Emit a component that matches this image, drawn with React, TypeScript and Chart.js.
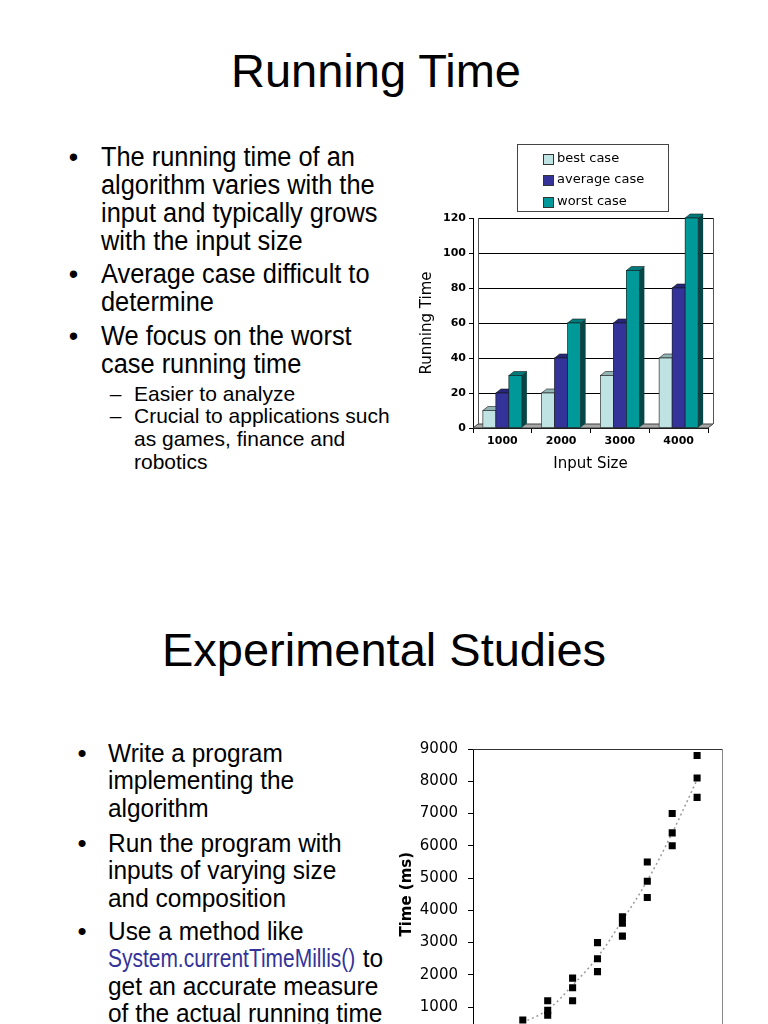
import React, { useEffect, useRef } from "react";
import { Chart, registerables } from "chart.js";

Chart.register(...registerables);
Chart.defaults.font.family = "'DejaVu Sans', Verdana, sans-serif";
Chart.defaults.color = "#000";

// ---------- Data: bar chart (Running Time) ----------
const barCategories = ["1000", "2000", "3000", "4000"];
const barSeriesNames = ["best case", "average case", "worst case"];
const bestCase = [10, 20, 30, 40];
const averageCase = [20, 40, 60, 80];
const worstCase = [30, 60, 90, 120];
const barYMax = 120;
const barYStep = 20;

// ---------- Data: scatter chart (Experimental Studies) ----------
const scatterX = [20, 20, 20, 30, 30, 30, 40, 40, 40, 50, 50, 50, 60, 60, 60, 70, 70, 70, 80, 80, 80, 90, 90, 90];
const scatterY = [600, 350, 200, 1200, 900, 750, 1900, 1600, 1200, 3000, 2500, 2100, 3800, 3600, 3200, 5500, 4900, 4400, 7000, 6400, 6000, 8800, 8100, 7500];
const trendX = [20, 30, 40, 50, 60, 70, 80, 90];
const trendY = [520, 920, 1680, 2550, 3690, 4920, 6400, 8050];
const scatterYMax = 9000;
const scatterYStep = 1000;
const scatterXMax = 100;

// ---------- Slide text ----------
const topBullets = [
  ["The running time of an", "algorithm varies with the", "input and typically grows", "with the input size"],
  ["Average case difficult to", "determine"],
  ["We focus on the worst", "case running time"],
];
const topSubBullets = [["Easier to analyze"], ["Crucial to applications such", "as games, finance and", "robotics"]];
const bottomBullets = [
  ["Write a program", "implementing the", "algorithm"],
  ["Run the program with", "inputs of varying size", "and composition"],
  ["Use a method like", "@@System.currentTimeMillis()@@ to", "get an accurate measure", "of the actual running time"],
];

// styling
const barFront = ["#bfe3e3", "#333399", "#009999"];
const barTop = ["#93b4b4", "#26267a", "#007a7a"];
const barSide = ["#6f8c8c", "#17174d", "#064646"];

const SANS = "'Liberation Sans', Arial, Helvetica, sans-serif";

function BarChart() {
  const ref = useRef<HTMLCanvasElement>(null);
  useEffect(() => {
    const dx = 5;
    const dy = 4;
    const plugin = {
      id: "bar3d",
      beforeDatasetsDraw(chart: any) {
        const { ctx, chartArea: a, scales } = chart;
        const y = scales.y;
        ctx.save();
        ctx.beginPath();
        ctx.moveTo(a.left, a.bottom);
        ctx.lineTo(a.right, a.bottom);
        ctx.lineTo(a.right + dx, a.bottom - dy);
        ctx.lineTo(a.left + dx, a.bottom - dy);
        ctx.closePath();
        ctx.fillStyle = "#a8a8a8";
        ctx.fill();
        ctx.strokeStyle = "#404040";
        ctx.lineWidth = 1;
        ctx.stroke();
        ctx.strokeStyle = "#000";
        ctx.lineWidth = 1;
        y.ticks.forEach((t: any) => {
          if (t.value === 0) return;
          const py = Math.round(y.getPixelForValue(t.value)) + 0.5;
          ctx.beginPath();
          ctx.moveTo(a.left + dx, py);
          ctx.lineTo(a.right + dx, py);
          ctx.stroke();
        });
        ctx.beginPath();
        ctx.moveTo(Math.round(a.left + dx) + 0.5, a.top);
        ctx.lineTo(Math.round(a.left + dx) + 0.5, a.bottom - dy);
        ctx.moveTo(Math.round(a.right + dx) + 0.5, a.top);
        ctx.lineTo(Math.round(a.right + dx) + 0.5, a.bottom - dy);
        ctx.strokeStyle = "#555";
        ctx.stroke();
        ctx.restore();
      },
      afterDatasetsDraw(chart: any) {
        const { ctx } = chart;
        ctx.save();
        const n = chart.data.labels.length;
        for (let i = 0; i < n; i++) {
          chart.data.datasets.forEach((_: any, d: number) => {
            const el = chart.getDatasetMeta(d).data[i];
            const { x, y, base, width } = el.getProps(["x", "y", "base", "width"], true);
            const l = x - width / 2;
            const r = x + width / 2;
            ctx.beginPath();
            ctx.moveTo(r, y);
            ctx.lineTo(r + dx, y - dy);
            ctx.lineTo(r + dx, base - dy);
            ctx.lineTo(r, base);
            ctx.closePath();
            ctx.fillStyle = barSide[d];
            ctx.fill();
            ctx.beginPath();
            ctx.moveTo(l, y);
            ctx.lineTo(l + dx, y - dy);
            ctx.lineTo(r + dx, y - dy);
            ctx.lineTo(r, y);
            ctx.closePath();
            ctx.fillStyle = barTop[d];
            ctx.fill();
            ctx.lineWidth = 0.6;
            ctx.strokeStyle = "#1a1a1a";
            ctx.stroke();
            ctx.fillStyle = barFront[d];
            ctx.fillRect(l, y, width, base - y);
            ctx.strokeRect(l, y, width, base - y);
          });
        }
        ctx.restore();
      },
      afterDraw(chart: any) {
        const { ctx } = chart;
        ctx.save();
        const bx = 107.5, by = 4.5, bw = 151, bh = 67;
        ctx.fillStyle = "#fff";
        ctx.fillRect(bx, by, bw, bh);
        ctx.strokeStyle = "#444";
        ctx.lineWidth = 1;
        ctx.strokeRect(bx, by, bw, bh);
        ctx.font = "13px 'DejaVu Sans'";
        ctx.textBaseline = "middle";
        chart.data.datasets.forEach((ds: any, d: number) => {
          const cy = 18.5 + d * 21.5;
          ctx.fillStyle = barFront[d];
          ctx.fillRect(133.5, Math.round(cy - 5) + 0.5, 10, 10);
          ctx.strokeStyle = "#333";
          ctx.strokeRect(133.5, Math.round(cy - 5) + 0.5, 10, 10);
          ctx.fillStyle = "#000";
          ctx.fillText(ds.label, 147, cy);
        });
        ctx.restore();
      },
    };
    const chart = new Chart(ref.current!, {
      type: "bar",
      data: {
        labels: barCategories,
        datasets: [
          { label: barSeriesNames[0], data: bestCase, backgroundColor: barFront[0] },
          { label: barSeriesNames[1], data: averageCase, backgroundColor: barFront[1] },
          { label: barSeriesNames[2], data: worstCase, backgroundColor: barFront[2] },
        ],
      },
      options: {
        responsive: false,
        animation: false,
        events: [],
        layout: { padding: { top: 78, right: 22, left: 0, bottom: 0 } },
        datasets: { bar: { categoryPercentage: 0.664, barPercentage: 1 } },
        plugins: { legend: { display: false }, tooltip: { enabled: false } },
        scales: {
          x: {
            grid: { drawOnChartArea: false, drawTicks: true, tickLength: 5, color: "#000", offset: true },
            border: { display: true, color: "#000" },
            ticks: { font: { size: 11, weight: "bold" }, padding: 2, color: "#000" },
            title: { display: true, text: "Input Size", font: { size: 15 }, color: "#000", padding: { top: 0, bottom: 7 } },
            afterFit: (s: any) => { s.height = 52; },
          },
          y: {
            min: 0,
            max: barYMax,
            ticks: { stepSize: barYStep, font: { size: 11, weight: "bold" }, padding: 3, color: "#000" },
            grid: { drawOnChartArea: false, drawTicks: true, tickLength: 4, color: "#000" },
            border: { display: true, color: "#000" },
            title: { display: true, text: "Running Time", font: { size: 15 }, color: "#000", padding: { top: 8, bottom: 0 } },
            afterFit: (s: any) => { s.width = 63; },
          },
        },
      },
      plugins: [plugin],
    } as any);
    return () => chart.destroy();
  }, []);
  return (
    <canvas ref={ref} width={320} height={340}
      style={{ position: "absolute", left: 410, top: 140, width: 320, height: 340 }} />
  );
}

function ScatterChart() {
  const ref = useRef<HTMLCanvasElement>(null);
  useEffect(() => {
    const boxPlugin = {
      id: "box",
      afterDraw(chart: any) {
        const { ctx, chartArea: a } = chart;
        ctx.save();
        ctx.lineWidth = 1;
        ctx.strokeStyle = "#333";
        ctx.beginPath();
        ctx.moveTo(a.left, Math.round(a.top) + 0.5);
        ctx.lineTo(a.right, Math.round(a.top) + 0.5);
        ctx.stroke();
        ctx.strokeStyle = "#888";
        ctx.beginPath();
        ctx.moveTo(Math.round(a.right) + 0.5, a.top);
        ctx.lineTo(Math.round(a.right) + 0.5, a.bottom);
        ctx.stroke();
        ctx.restore();
      },
    };
    const chart = new Chart(ref.current!, {
      type: "scatter",
      data: {
        datasets: [
          {
            label: "measurements",
            data: scatterX.map((x, i) => ({ x, y: scatterY[i] })),
            pointStyle: "rect",
            pointRadius: 5,
            backgroundColor: "#000",
            borderColor: "#000",
            borderWidth: 0,
          },
          {
            label: "trend",
            type: "line",
            data: trendX.map((x, i) => ({ x, y: trendY[i] })),
            borderColor: "#9a9a9a",
            borderDash: [2, 3],
            borderWidth: 1.5,
            pointRadius: 0,
            tension: 0.4,
            fill: false,
          },
        ],
      },
      options: {
        responsive: false,
        animation: false,
        events: [],
        layout: { padding: { top: 18, right: 8, left: 0, bottom: 0 } },
        plugins: { legend: { display: false }, tooltip: { enabled: false } },
        scales: {
          x: {
            type: "linear",
            min: 0,
            max: scatterXMax,
            ticks: { display: false, stepSize: 10 },
            grid: { drawOnChartArea: false, tickLength: 5, color: "#000" },
            border: { display: true, color: "#000" },
            title: { display: true, text: "Input Size", font: { size: 15, weight: "bold" }, color: "#000" },
            afterFit: (s: any) => { s.height = 50.6; },
          },
          y: {
            min: 0,
            max: scatterYMax,
            ticks: { stepSize: scatterYStep, font: { size: 15 }, color: "#000", padding: 10, callback: (v: any) => String(v) },
            grid: { drawOnChartArea: false, drawTicks: true, tickLength: 5, color: "#000" },
            border: { display: true, color: "#000" },
            title: { display: true, text: "Time (ms)", font: { size: 15, weight: "bold" }, color: "#000", padding: { top: 8.5, bottom: 0 } },
            afterFit: (s: any) => { s.width = 83; },
          },
        },
      },
      plugins: [boxPlugin],
    } as any);
    return () => chart.destroy();
  }, []);
  return (
    <canvas ref={ref} width={340} height={360}
      style={{ position: "absolute", left: 390, top: 730, width: 340, height: 360 }} />
  );
}

function TextLine(props: { text: string; left: number; baseline: number; size: number; sx?: number; color?: string }) {
  const { text, left, baseline, size, sx = 1, color = "#000" } = props;
  const parts = text.split("@@");
  return (
    <div style={{
      position: "absolute", left, top: baseline - 0.8465 * size, fontSize: size, lineHeight: `${size}px`,
      whiteSpace: "nowrap", transform: `scaleX(${sx})`, transformOrigin: "left top", color, fontFamily: SANS,
    }}>
      {parts.map((p, i) =>
        i % 2 === 1 ? (
          <span key={i} style={{ display: "inline-block", width: 248 / sx, color: "#333399", whiteSpace: "nowrap", overflow: "visible" }}>
            <span style={{ display: "inline-block", transform: `scaleX(${(248 / sx) / (11.833 * size)})`, transformOrigin: "left top" }}>{p}</span>
          </span>
        ) : (
          <span key={i}>{p}</span>
        )
      )}
    </div>
  );
}

function Bullet(props: { cx: number; baseline: number; size: number; ch?: string; w?: number }) {
  const { cx, baseline, size, ch = "\u2022", w = 0.35 } = props;
  return (
    <div style={{ position: "absolute", left: cx - (w * size) / 2, top: baseline - 0.8465 * size, fontSize: size, lineHeight: `${size}px`, fontFamily: SANS }}>{ch}</div>
  );
}

export default function App() {
  const els: any[] = [];
  const topBase = [167, 284, 346];
  topBullets.forEach((lines, b) => {
    els.push(<Bullet key={`tb${b}`} cx={73.5} baseline={topBase[b]} size={27} />);
    lines.forEach((t, i) => els.push(<TextLine key={`t${b}-${i}`} text={t} left={101} baseline={topBase[b] + i * 28} size={27} sx={0.94} />));
  });
  const subBase = [401, 423];
  topSubBullets.forEach((lines, b) => {
    els.push(<Bullet key={`sb${b}`} cx={115.5} baseline={subBase[b]} size={21} ch={"\u2013"} w={0.556} />);
    lines.forEach((t, i) => els.push(<TextLine key={`s${b}-${i}`} text={t} left={134} baseline={subBase[b] + i * 23} size={21} />));
  });
  const botBase = [762, 852, 940];
  bottomBullets.forEach((lines, b) => {
    els.push(<Bullet key={`bb${b}`} cx={82} baseline={botBase[b]} size={26} />);
    lines.forEach((t, i) => els.push(<TextLine key={`b${b}-${i}`} text={t} left={108} baseline={botBase[b] + i * 27.5} size={26} sx={0.94} />));
  });
  return (
    <div style={{ position: "absolute", left: 0, top: 0, width: 768, height: 1024, overflow: "hidden", background: "#fff" }}>
      <div style={{ position: "absolute", left: 0, top: 47, width: 752, textAlign: "center", fontSize: 47, lineHeight: "47px", fontFamily: SANS }}>Running Time</div>
      <div style={{ position: "absolute", left: 0, top: 626, width: 768, textAlign: "center", fontSize: 47, lineHeight: "47px", fontFamily: SANS }}>Experimental Studies</div>
      {els}
      <BarChart />
      <ScatterChart />
    </div>
  );
}
